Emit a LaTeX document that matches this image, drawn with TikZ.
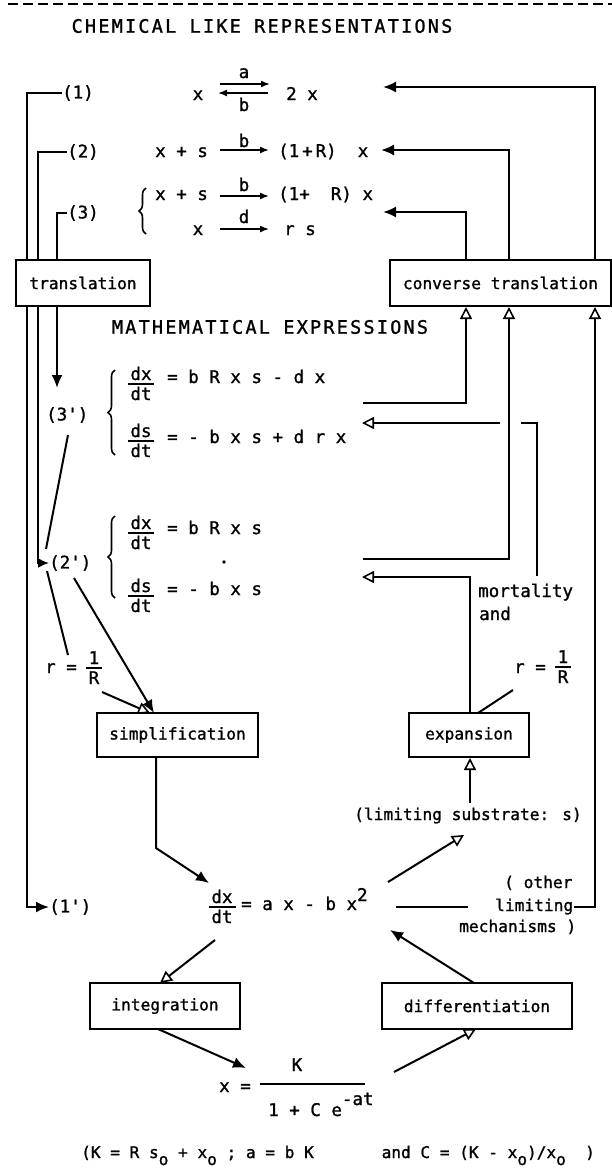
\documentclass[tikz,border=0pt]{standalone}
\usepackage{fontspec}
\setmainfont[FakeBold=1.2]{DejaVu Sans Mono}
\newfontfamily\ttlfont[LetterSpace=12,FakeBold=1.2]{DejaVu Sans Mono}
\usetikzlibrary{arrows.meta,decorations.pathreplacing,calc}
\newcommand\eqf{\fontsize{17.5}{20}\selectfont}
\newcommand\labf{\fontsize{16.2}{19}\selectfont}
\newcommand\footf{\fontsize{16.1}{19}\selectfont}
\newcommand\subo{\raisebox{-7pt}{o}}
\newcommand\fracat[6]{%
  \node[txt,anchor=base] (#1n) at (#2,#3-4) {#4};
  \node[txt,anchor=base] (#1d) at (#2,#3+16) {#5};
  \draw[barln] (#2-#6,#3) -- (#2+#6,#3);}
\begin{document}
\begin{tikzpicture}[x=1pt,y=-1pt,
  txt/.style={inner sep=0pt,font=\eqf},
  lab/.style={inner sep=0pt,font=\labf},
  ttl/.style={inner sep=0pt,font=\ttlfont\fontsize{18.5}{22}\selectfont},
  box/.style={draw,line width=2pt,fill=white,inner sep=0pt,font=\labf},
  ln/.style={line width=2pt},
  fat/.style={ln,-{Latex[length=13pt,width=11pt]}},
  fats/.style={ln,-{Latex[length=11pt,width=10pt]}},
  hol/.style={ln,-{Triangle[open,length=12pt,width=12pt,line width=1.6pt]}},
  chem/.style={line width=1.5pt,-{Latex[length=9pt,width=7pt]}},
  brc/.style={decorate,decoration={brace,amplitude=7pt},line width=1.6pt},
  barln/.style={line width=1.6pt}]
\useasboundingbox (0,0) rectangle (612,1170);

% guides
\coordinate (gL1) at (26.5,0);
\coordinate (gL2) at (38,0);
\coordinate (gL3) at (57,0);
\coordinate (gS) at (156,0);
\coordinate (gA) at (466,0);
\coordinate (gE) at (470,0);
\coordinate (gB) at (509,0);
\coordinate (gC) at (595,0);

% top dashed rule
\coordinate (dl) at (8,4); \coordinate (dr) at (612,4);
\draw[line width=1.8pt,dash pattern=on 10pt off 5pt] (dl) -- (dr);

\node[ttl] (title) at (262,26) {CHEMICAL LIKE REPRESENTATIONS};

% ---- row 1
\node[txt,anchor=west] (p1) at (62,93) {(1)};
\node[txt,anchor=base] (r1l) at (198,100) {x};
\node[txt,anchor=base west] (r1r) at (286,100) {2 x};
\coordinate (c1a) at (220,84); \coordinate (c1b) at (270,84);
\coordinate (c1c) at (268,93); \coordinate (c1d) at (218,93);
\draw[chem] (c1a) -- (c1b);
\draw[chem] (c1c) -- (c1d);
\node[txt,anchor=base] (k1a) at (244,78) {a};
\node[txt,anchor=base] (k1b) at (244,111) {b};

% ---- row 2
\node[txt,anchor=west] (p2) at (67,152) {(2)};
\node[txt,anchor=base west] (r2l) at (155,157) {x + s};
\coordinate (c2a) at (220,150); \coordinate (c2b) at (269,150);
\draw[chem] (c2a) -- (c2b);
\node[txt,anchor=base] (k2) at (244,147) {b};
\node[txt,anchor=base west] (r2r) at (278,157) {(1\,+\,R)~~x};

% ---- row 3
\node[txt,anchor=west] (p3) at (67,213) {(3)};
\coordinate (bra) at (146,234); \coordinate (brb) at (146,188);
\draw[brc] (bra) -- (brb);
\node[txt,anchor=base west] (r3l) at (155,200) {x + s};
\coordinate (c3a) at (220,196); \coordinate (c3b) at (269,196);
\draw[chem] (c3a) -- (c3b);
\node[txt,anchor=base] (k3) at (244,191) {b};
\node[txt,anchor=base west] (r3r) at (278,200) {(1+~~R)~x};
\node[txt,anchor=base] (r4l) at (198,235) {x};
\coordinate (c4a) at (220,229); \coordinate (c4b) at (269,229);
\draw[chem] (c4a) -- (c4b);
\node[txt,anchor=base] (k4) at (244,223) {d};
\node[txt,anchor=base west] (r4r) at (284,235) {r s};

% ---- primed labels
\node[txt,anchor=west] (p1p) at (49,907) {(1\textquotesingle)};
\node[txt,anchor=west] (p2p) at (49,563) {(2\textquotesingle)};
\node[txt,anchor=west] (p3p) at (46,415) {(3\textquotesingle)};

% left long connectors (behind the translation box)
\draw[fat] (p1.west) -- (p1.west -| gL1) |- (p1p.west);
\draw[fats] (p2.west) -- (p2.west -| gL2) |- (p2p.west);

% ---- translation boxes
\node[box,minimum width=134pt,minimum height=46pt] (trans) at (83,283) {translation};
\node[box,minimum width=221pt,minimum height=46pt] (conv) at (500.5,283) {converse translation};
\draw[ln] (p3.west) -- (p3.west -| gL3) -- (trans.north -| gL3);
\coordinate (t3p) at (57,388);
\draw[fat] (trans.south -| gL3) -- (t3p);

\node[ttl] (mtitle) at (270,327) {MATHEMATICAL EXPRESSIONS};

% ---- equations (3')
\coordinate (bb1) at (115,455); \coordinate (bb2) at (115,370);
\draw[brc] (bb1) -- (bb2);
\fracat{f1}{141}{384}{dx}{dt}{13}
\node[txt,anchor=base west] (e1) at (167,383) {= b R x s - d x};
\fracat{f2}{141}{441}{ds}{dt}{13}
\node[txt,anchor=base west] (e2) at (167,443) {= - b x s + d r x};

% ---- equations (2')
\coordinate (bc1) at (115,598); \coordinate (bc2) at (115,516);
\draw[brc] (bc1) -- (bc2);
\fracat{f3}{141}{533}{dx}{dt}{13}
\node[txt,anchor=base west] (e3) at (167,534) {= b R x s};
\node[circle,fill,inner sep=1.4pt] (dot) at (224,562) {};
\fracat{f4}{141}{596}{ds}{dt}{13}
\node[txt,anchor=base west] (e4) at (167,595) {= - b x s};

% ---- right side labels
\node[txt,anchor=base west] (mort) at (478,597) {mortality};
\node[txt,anchor=base west] (andl) at (479,620) {and};
\node[txt,anchor=base west] (rr) at (514,673) {r =};
\fracat{f5}{563}{667}{1}{R}{8}
\node[txt,anchor=base west] (rl) at (45,673) {r =};
\fracat{f6}{94}{668}{1}{R}{8}

% ---- simplification / expansion
\node[box,minimum width=161pt,minimum height=44pt] (simp) at (177.5,735) {simplification};
\node[box,minimum width=120pt,minimum height=44pt] (exp) at (469,735) {expansion};
\node[lab,anchor=base west] (lim) at (354,820) {(limiting substrate: s)};

% ---- equation (1')
\fracat{f7}{222}{907}{dx}{dt}{13.5}
\node[txt,anchor=base west] (e5) at (241,910) {= a x - b x\raisebox{9pt}{2}};
\node[lab,anchor=base west] (oth1) at (504,888) {( other};
\node[lab,anchor=base west] (oth2) at (495,911) {limiting};
\node[lab,anchor=base west] (oth3) at (459,932) {mechanisms )};

% ---- integration / differentiation
\node[box,minimum width=150pt,minimum height=46pt] (integ) at (165,1006) {integration};
\node[box,minimum width=190pt,minimum height=46pt] (diff) at (477,1006) {differentiation};

\node[txt,anchor=base west] (xe) at (219,1092) {x =};
\node[txt,anchor=base] (kn) at (297,1071) {K};
\coordinate (kb1) at (260,1084); \coordinate (kb2) at (365,1084);
\draw[barln] (kb1) -- (kb2);
\node[txt,anchor=base west] (kd) at (268,1116) {1 + C e\raisebox{11pt}{-at}};

\node[inner sep=0pt,font=\footf,anchor=base west] (foot) at (81,1158)
  {(K = R s\subo{} + x\subo{} ; a = b K~~~~~~~and C = (K - x\subo)/x\subo~~)};

% ---- right connectors to chemical rows
\coordinate (t1) at (383,87);
\coordinate (t2) at (381,150);
\coordinate (t3) at (383,212);
\draw[fat] (conv.north -| gC) |- (t1);
\draw[fat] (conv.north -| gB) |- (t2);
\draw[fat] (conv.north -| gA) |- (t3);

% ---- math rows to converse translation
\coordinate (s3) at (363,403);
\coordinate (s2) at (363,559);
\coordinate (s1) at (574,907);
\draw[hol] (s3) -| (conv.south -| gA);
\draw[hol] (s2) -| (conv.south -| gB);
\draw[hol] (s1) -| (conv.south -| gC);

% ---- mortality -> (3')
\coordinate (m0) at (537,576);
\coordinate (m1) at (521,423);
\coordinate (m2) at (500,423);
\coordinate (m3) at (362,423);
\draw[ln] (m0) |- (m1);
\draw[hol] (m2) -- (m3);

% ---- expansion -> (2')
\coordinate (x2) at (362,577);
\draw[hol] (exp.north -| gE) |- (x2);
\coordinate (rr0) at (513,690); \coordinate (rr1) at (478,713);
\draw[ln] (rr0) -- (rr1);
\coordinate (lim0) at (470,803);
\draw[hol] (lim0) -- (exp.south -| gE);
\coordinate (q0) at (388,882); \coordinate (q1) at (464,835);
\draw[hol] (q0) -- (q1);
\coordinate (o0) at (396,907); \coordinate (o1) at (468,907);
\draw[ln] (o0) -- (o1);

% ---- left side: (3') -> (2') -> simplification
\coordinate (a0) at (68,435); \coordinate (a1) at (46,549);
\draw[ln] (a0) -- (a1);
\coordinate (b0) at (68,655); \coordinate (b1) at (47,571);
\draw[ln] (b0) -- (b1);
\coordinate (c0) at (74,578); \coordinate (c1) at (154,713);
\draw[fat] (c0) -- (c1);
\coordinate (d0) at (102,692); \coordinate (d1) at (150,713);
\draw[hol] (d0) -- (d1);
\coordinate (sb) at (156,848); \coordinate (sc) at (209,883);
\draw[fat] (simp.south -| gS) -- (sb) -- (sc);

% ---- bottom loop
\coordinate (i0) at (215,940); \coordinate (i1) at (160,983);
\draw[hol] (i0) -- (i1);
\coordinate (j0) at (158,1029); \coordinate (j1) at (246,1068);
\draw[fat] (j0) -- (j1);
\coordinate (k0) at (394,1072); \coordinate (k1) at (476,1029);
\draw[hol] (k0) -- (k1);
\coordinate (l0) at (474,983); \coordinate (l1) at (390,930);
\draw[fat] (l0) -- (l1);
\end{tikzpicture}
\end{document}
